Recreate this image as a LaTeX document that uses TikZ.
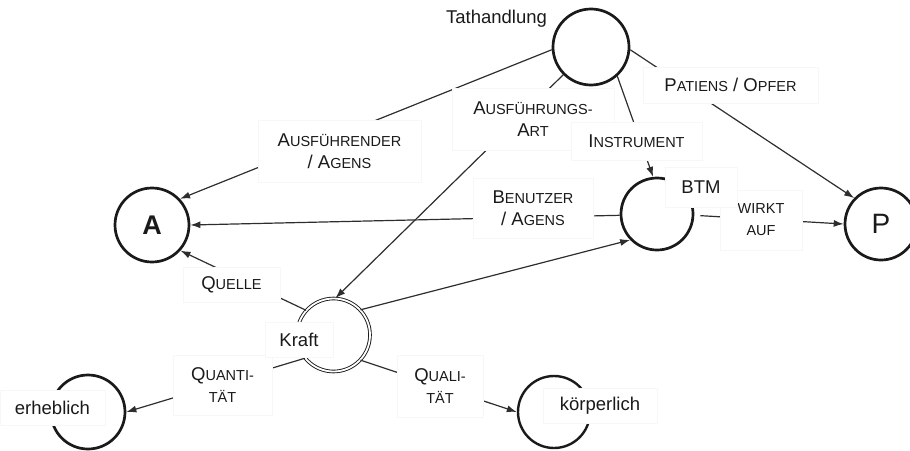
\documentclass[tikz,border=0pt]{standalone}
\usepackage{fontspec}
\setmainfont{Liberation Sans}
\usetikzlibrary{arrows.meta}

\definecolor{ink}{HTML}{1A1A1A}
\definecolor{wire}{HTML}{2E2E2E}
\definecolor{boxline}{HTML}{F7F7F7}

% text sizes: full capitals and the reduced small-cap letters
\newcommand\bigsz{\fontsize{18.5}{22}\selectfont}
\newcommand\smsz{\fontsize{14.5}{22}\selectfont}
\newcommand\sck[2]{#1{\smsz #2}}
\newcommand\scs[1]{{\smsz #1}}

\begin{document}
\begin{tikzpicture}[x=1pt,y=-1pt,
  role/.style={circle,draw=ink,line width=2.7pt,inner sep=0pt,text=ink},
  force/.style={circle,draw=ink,line width=0.9pt,double=white,double distance=1.8pt,inner sep=0pt},
  labelbox/.style={fill=white,draw=boxline,line width=0.6pt,text=ink,font=\bigsz,align=center,inner sep=0pt},
  plaintext/.style={text=ink,font=\bigsz,inner sep=0pt},
  rel/.style={draw=wire,line width=1.2pt,-{Latex[length=10pt,width=7pt]}},
]
\useasboundingbox (0,0) rectangle (910,450);

% concept circles
\node[role,minimum size=76pt] (T) at (591,47) {};
\node[role,minimum size=74pt,font=\fontsize{27}{27}\selectfont\bfseries] (A) at (152,225) {A};
\node[role,minimum size=72pt,font=\fontsize{28}{28}\selectfont] (P) at (881,224) {P};
\node[role,minimum size=72pt] (BTM) at (657,214) {};
\node[force,minimum size=73pt] (Kraft) at (333.5,335) {};
\node[role,minimum size=74pt] (erh) at (88,412) {};
\node[role,minimum size=72pt,line width=2.4pt] (koerp) at (554,412) {};

% relations
\draw[rel] (T.184) -- (A.43);
\draw[rel] (T.225) -- (Kraft.87);
\draw[rel] (T.-48) -- (BTM.96);
\draw[rel] (T.-4) -- (P.136);
\draw[rel] (BTM.182) -- (A.0);
\draw[rel,shorten <=6pt] (BTM.-2) -- (P.180);
\draw[rel] (Kraft.138) -- (A.-42);
\draw[rel] (Kraft.43) -- (BTM.224);
\draw[rel] (Kraft.219) -- (erh.0);
\draw[rel] (Kraft.-43) -- (koerp.180);

% relation labels
\node[labelbox,minimum width=163pt,minimum height=62pt] (lAus) at (339.5,151)
  {\sck{A}{USFÜHRENDER}\\/ \sck{A}{GENS}};
\node[labelbox,minimum width=162pt,minimum height=62pt] (lArt) at (533,119)
  {\sck{A}{USFÜHRUNGS-}\\\sck{A}{RT}};
\node[labelbox,minimum width=131pt,minimum height=38pt] (lInst) at (636.5,141)
  {\sck{I}{NSTRUMENT}};
\node[labelbox,minimum width=175pt,minimum height=36pt] (lPat) at (730.5,85)
  {\sck{P}{ATIENS} / \sck{O}{PFER}};
\node[labelbox,minimum width=120pt,minimum height=60pt] (lBen) at (533,208)
  {\sck{B}{ENUTZER}\\/ \sck{A}{GENS}};
\node[labelbox,minimum width=82pt,minimum height=60pt] (lWirk) at (761,220)
  {\scs{WIRKT}\\\scs{AUF}};
\node[labelbox,minimum width=97pt,minimum height=35pt] (lQuel) at (231.5,284.5)
  {\sck{Q}{UELLE}};
\node[labelbox,minimum width=99pt,minimum height=60pt] (lQuan) at (222.5,385)
  {\sck{Q}{UANTI-}\\\scs{TÄT}};
\node[labelbox,minimum width=86pt,minimum height=62pt] (lQual) at (440,386)
  {\sck{Q}{UALI-}\\\scs{TÄT}};

% concept names
\node[plaintext] (lTat) at (496.5,19) {Tathandlung};
\node[labelbox,minimum width=72pt,minimum height=40pt] (lBTM) at (701,187) {BTM};
\node[labelbox,minimum width=68pt,minimum height=35pt] (lKraft) at (299,339.5) {Kraft};
\node[labelbox,minimum width=105pt,minimum height=35pt] (lErh) at (52.5,407.5) {erheblich};
\node[labelbox,minimum width=114pt,minimum height=35pt] (lKoerp) at (600,405.5) {körperlich};
\end{tikzpicture}
\end{document}
